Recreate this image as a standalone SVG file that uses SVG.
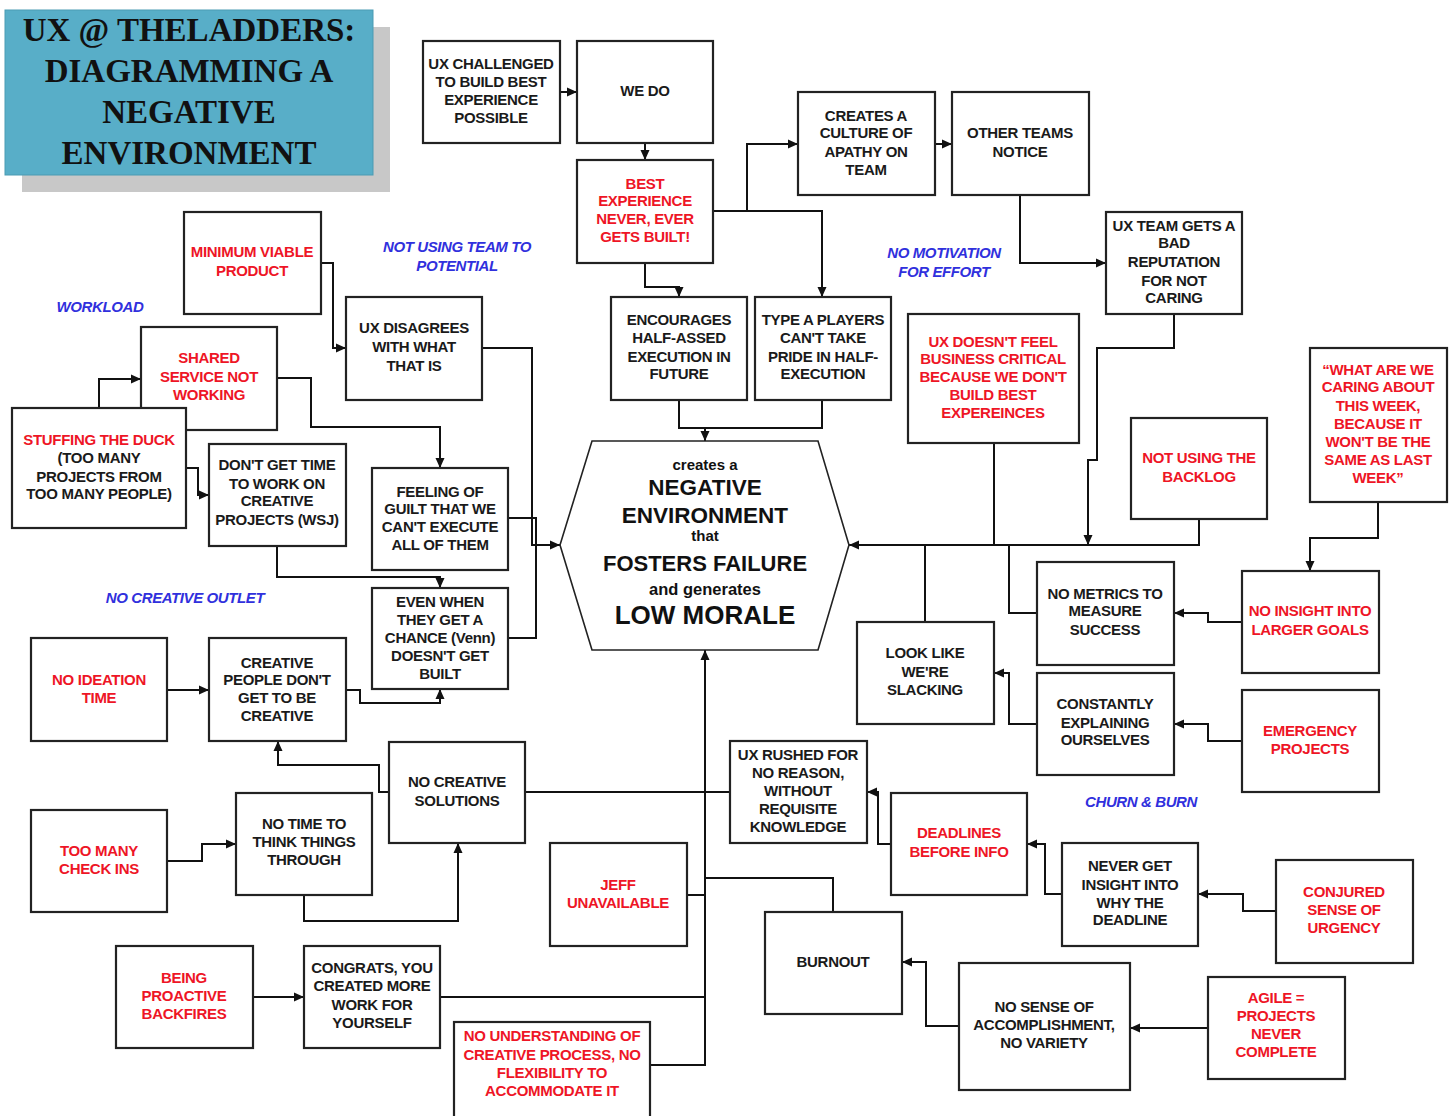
<svg xmlns="http://www.w3.org/2000/svg" width="1455" height="1116" viewBox="0 0 1455 1116">
<style>
.b{fill:#fff;stroke:#222;stroke-width:2.2}
.t{font-family:"Liberation Sans",Arial,sans-serif;font-weight:bold;font-size:15px;text-anchor:middle;fill:#1a1a1a;letter-spacing:-0.3px}
.r{fill:#ee1526}
.lbl{font-family:"Liberation Sans",Arial,sans-serif;font-weight:bold;font-style:italic;font-size:15px;text-anchor:middle;fill:#3030dd;letter-spacing:-0.4px}
.c path{fill:none;stroke:#111;stroke-width:2}
.ttl{font-family:"Liberation Serif","Times New Roman",serif;font-weight:bold;font-size:33px;text-anchor:middle;fill:#111}
.hx{font-family:"Liberation Sans",Arial,sans-serif;font-weight:bold;text-anchor:middle;fill:#111}
</style>
<defs>
<marker id="a" markerUnits="userSpaceOnUse" markerWidth="10" markerHeight="10" refX="10" refY="5" orient="auto"><path d="M0,0.5 L10,5 L0,9.5 z" fill="#111"/></marker>
</defs>
<rect width="1455" height="1116" fill="#fff"/>
<g id="title">
<rect x="22" y="27" width="368" height="165" fill="#c8c8c8"/>
<rect x="5" y="10" width="368" height="165" fill="#58aec8" stroke="#4a9bb3" stroke-width="1"/>
<text class="ttl" x="189" y="41">UX @ THELADDERS:</text>
<text class="ttl" x="189" y="82">DIAGRAMMING A</text>
<text class="ttl" x="189" y="123">NEGATIVE</text>
<text class="ttl" x="189" y="164">ENVIRONMENT</text>
</g>
<g id="labels">
<text class="lbl" x="457" y="252">NOT USING TEAM TO</text>
<text class="lbl" x="457" y="271">POTENTIAL</text>
<text class="lbl" x="100" y="312">WORKLOAD</text>
<text class="lbl" x="944" y="258">NO MOTIVATION</text>
<text class="lbl" x="944" y="277">FOR EFFORT</text>
<text class="lbl" x="185" y="603">NO CREATIVE OUTLET</text>
<text class="lbl" x="1141" y="807">CHURN &amp; BURN</text>
</g>
<g class="c" id="connectors">
<path d="M560,92 H577" marker-end="url(#a)"/>
<path d="M645,143 V160" marker-end="url(#a)"/>
<path d="M713,211 H822 V297" marker-end="url(#a)"/>
<path d="M747,211 V144 H798" marker-end="url(#a)"/>
<path d="M645,263 V287 H679 V297" marker-end="url(#a)"/>
<path d="M935,144 H952" marker-end="url(#a)"/>
<path d="M1020,195 V263 H1106" marker-end="url(#a)"/>
<path d="M1174,314 V348 H1097 V460 H1088 V545" marker-end="url(#a)"/>
<path d="M994,443 V545"/>
<path d="M1199,519 V545 H849" marker-end="url(#a)"/>
<path d="M1378,502 V538 H1310 V571" marker-end="url(#a)"/>
<path d="M1242,622 H1208 V613 H1174" marker-end="url(#a)"/>
<path d="M1242,741 H1208 V724 H1174" marker-end="url(#a)"/>
<path d="M1037,613 H1009 V545"/>
<path d="M925,622 V545"/>
<path d="M1037,724 H1009 V673 H994" marker-end="url(#a)"/>
<path d="M679,400 V428 H822 V400"/>
<path d="M705,428 V441" marker-end="url(#a)"/>
<path d="M482,348 H532 V545 H560" marker-end="url(#a)"/>
<path d="M508,518 H536 V638 H508"/>
<path d="M321,263 H333 V348 H346" marker-end="url(#a)"/>
<path d="M99,408 V379 H141" marker-end="url(#a)"/>
<path d="M277,378 H311 V427 H440 V468" marker-end="url(#a)"/>
<path d="M186,468 H198 V495 H209" marker-end="url(#a)"/>
<path d="M277,546 V577 H440 V588" marker-end="url(#a)"/>
<path d="M167,690 H209" marker-end="url(#a)"/>
<path d="M346,690 H360 V703 H440 V689" marker-end="url(#a)"/>
<path d="M389,792 H379 V765 H278 V741" marker-end="url(#a)"/>
<path d="M525,792 H730"/>
<path d="M167,861 H202 V844 H236" marker-end="url(#a)"/>
<path d="M304,895 V921 H458 V843" marker-end="url(#a)"/>
<path d="M253,997 H304" marker-end="url(#a)"/>
<path d="M440,997 H705"/>
<path d="M650,1065 H705 V650" marker-end="url(#a)"/>
<path d="M687,895 H705"/>
<path d="M833,912 V878 H705"/>
<path d="M891,844 H878 V792 H867" marker-end="url(#a)"/>
<path d="M1062,894 H1045 V844 H1027" marker-end="url(#a)"/>
<path d="M1276,911 H1243 V894 H1198" marker-end="url(#a)"/>
<path d="M1208,1028 H1130" marker-end="url(#a)"/>
<path d="M959,1026 H926 V962 H902" marker-end="url(#a)"/>
</g>
<g id="hexagon">
<polygon points="560,545 592,441 818,441 849,545 818,650 592,650" fill="#fff" stroke="#222" stroke-width="1.6"/>
<text class="hx" x="705" y="470" font-size="15">creates a</text>
<text class="hx" x="705" y="495" font-size="22.5">NEGATIVE</text>
<text class="hx" x="705" y="523" font-size="22.5">ENVIRONMENT</text>
<text class="hx" x="705" y="541" font-size="15">that</text>
<text class="hx" x="705" y="571" font-size="22">FOSTERS FAILURE</text>
<text class="hx" x="705" y="595" font-size="16.5">and generates</text>
<text class="hx" x="705" y="624" font-size="26">LOW MORALE</text>
</g>
<g id="n1"><rect class="b" x="423" y="41" width="137" height="102"/><text class="t"><tspan x="491" y="69">UX CHALLENGED</tspan><tspan x="491" y="87">TO BUILD BEST</tspan><tspan x="491" y="105">EXPERIENCE</tspan><tspan x="491" y="123">POSSIBLE</tspan></text></g>
<g id="n2"><rect class="b" x="577" y="41" width="136" height="102"/><text class="t"><tspan x="645" y="96">WE DO</tspan></text></g>
<g id="n3"><rect class="b" x="577" y="160" width="136" height="103"/><text class="t r"><tspan x="645" y="189">BEST</tspan><tspan x="645" y="206">EXPERIENCE</tspan><tspan x="645" y="224">NEVER, EVER</tspan><tspan x="645" y="242">GETS BUILT!</tspan></text></g>
<g id="n4"><rect class="b" x="798" y="92" width="137" height="103"/><text class="t"><tspan x="866" y="121">CREATES A</tspan><tspan x="866" y="138">CULTURE OF</tspan><tspan x="866" y="157">APATHY ON</tspan><tspan x="866" y="175">TEAM</tspan></text></g>
<g id="n5"><rect class="b" x="952" y="92" width="137" height="103"/><text class="t"><tspan x="1020" y="138">OTHER TEAMS</tspan><tspan x="1020" y="157">NOTICE</tspan></text></g>
<g id="n6"><rect class="b" x="1106" y="212" width="136" height="102"/><text class="t"><tspan x="1174" y="231">UX TEAM GETS A</tspan><tspan x="1174" y="248">BAD</tspan><tspan x="1174" y="267">REPUTATION</tspan><tspan x="1174" y="286">FOR NOT</tspan><tspan x="1174" y="303">CARING</tspan></text></g>
<g id="n7"><rect class="b" x="611" y="297" width="136" height="103"/><text class="t"><tspan x="679" y="325">ENCOURAGES</tspan><tspan x="679" y="343">HALF-ASSED</tspan><tspan x="679" y="362">EXECUTION IN</tspan><tspan x="679" y="379">FUTURE</tspan></text></g>
<g id="n8"><rect class="b" x="755" y="297" width="136" height="103"/><text class="t"><tspan x="823" y="325">TYPE A PLAYERS</tspan><tspan x="823" y="343">CAN'T TAKE</tspan><tspan x="823" y="362">PRIDE IN HALF-</tspan><tspan x="823" y="379">EXECUTION</tspan></text></g>
<g id="n9"><rect class="b" x="184" y="212" width="137" height="102"/><text class="t r"><tspan x="252" y="257">MINIMUM VIABLE</tspan><tspan x="252" y="276">PRODUCT</tspan></text></g>
<g id="n10"><rect class="b" x="346" y="297" width="136" height="103"/><text class="t"><tspan x="414" y="333">UX DISAGREES</tspan><tspan x="414" y="352">WITH WHAT</tspan><tspan x="414" y="371">THAT IS</tspan></text></g>
<g id="n11"><rect class="b" x="141" y="327" width="136" height="103"/><text class="t r"><tspan x="209" y="363">SHARED</tspan><tspan x="209" y="382">SERVICE NOT</tspan><tspan x="209" y="400">WORKING</tspan></text></g>
<g id="n12"><rect class="b" x="12" y="408" width="174" height="120"/><text class="t"><tspan x="99" y="445" class="r">STUFFING THE DUCK</tspan><tspan x="99" y="463">(TOO MANY</tspan><tspan x="99" y="482">PROJECTS FROM</tspan><tspan x="99" y="499">TOO MANY PEOPLE)</tspan></text></g>
<g id="n13"><rect class="b" x="209" y="444" width="137" height="102"/><text class="t"><tspan x="277" y="470">DON'T GET TIME</tspan><tspan x="277" y="489">TO WORK ON</tspan><tspan x="277" y="506">CREATIVE</tspan><tspan x="277" y="525">PROJECTS (WSJ)</tspan></text></g>
<g id="n14"><rect class="b" x="372" y="468" width="136" height="102"/><text class="t"><tspan x="440" y="497">FEELING OF</tspan><tspan x="440" y="514">GUILT THAT WE</tspan><tspan x="440" y="532">CAN'T EXECUTE</tspan><tspan x="440" y="550">ALL OF THEM</tspan></text></g>
<g id="n15"><rect class="b" x="372" y="588" width="136" height="101"/><text class="t"><tspan x="440" y="607">EVEN WHEN</tspan><tspan x="440" y="625">THEY GET A</tspan><tspan x="440" y="643">CHANCE (Venn)</tspan><tspan x="440" y="661">DOESN'T GET</tspan><tspan x="440" y="679">BUILT</tspan></text></g>
<g id="n16"><rect class="b" x="31" y="638" width="136" height="103"/><text class="t r"><tspan x="99" y="685">NO IDEATION</tspan><tspan x="99" y="703">TIME</tspan></text></g>
<g id="n17"><rect class="b" x="209" y="638" width="137" height="103"/><text class="t"><tspan x="277" y="668">CREATIVE</tspan><tspan x="277" y="685">PEOPLE DON'T</tspan><tspan x="277" y="703">GET TO BE</tspan><tspan x="277" y="721">CREATIVE</tspan></text></g>
<g id="n18"><rect class="b" x="389" y="742" width="136" height="101"/><text class="t"><tspan x="457" y="787">NO CREATIVE</tspan><tspan x="457" y="806">SOLUTIONS</tspan></text></g>
<g id="n19"><rect class="b" x="31" y="810" width="136" height="102"/><text class="t r"><tspan x="99" y="856">TOO MANY</tspan><tspan x="99" y="874">CHECK INS</tspan></text></g>
<g id="n20"><rect class="b" x="236" y="793" width="136" height="102"/><text class="t"><tspan x="304" y="829">NO TIME TO</tspan><tspan x="304" y="847">THINK THINGS</tspan><tspan x="304" y="865">THROUGH</tspan></text></g>
<g id="n21"><rect class="b" x="116" y="946" width="137" height="102"/><text class="t r"><tspan x="184" y="983">BEING</tspan><tspan x="184" y="1001">PROACTIVE</tspan><tspan x="184" y="1019">BACKFIRES</tspan></text></g>
<g id="n22"><rect class="b" x="304" y="946" width="136" height="102"/><text class="t"><tspan x="372" y="973">CONGRATS, YOU</tspan><tspan x="372" y="991">CREATED MORE</tspan><tspan x="372" y="1010">WORK FOR</tspan><tspan x="372" y="1028">YOURSELF</tspan></text></g>
<g id="n23"><rect class="b" x="454" y="1022" width="196" height="100"/><text class="t r"><tspan x="552" y="1041">NO UNDERSTANDING OF</tspan><tspan x="552" y="1060">CREATIVE PROCESS, NO</tspan><tspan x="552" y="1078">FLEXIBILITY TO</tspan><tspan x="552" y="1096">ACCOMMODATE IT</tspan></text></g>
<g id="n24"><rect class="b" x="550" y="843" width="137" height="103"/><text class="t r"><tspan x="618" y="890">JEFF</tspan><tspan x="618" y="908">UNAVAILABLE</tspan></text></g>
<g id="n25"><rect class="b" x="765" y="912" width="137" height="102"/><text class="t"><tspan x="833" y="967">BURNOUT</tspan></text></g>
<g id="n26"><rect class="b" x="730" y="741" width="137" height="102"/><text class="t"><tspan x="798" y="760">UX RUSHED FOR</tspan><tspan x="798" y="778">NO REASON,</tspan><tspan x="798" y="796">WITHOUT</tspan><tspan x="798" y="814">REQUISITE</tspan><tspan x="798" y="832">KNOWLEDGE</tspan></text></g>
<g id="n27"><rect class="b" x="891" y="793" width="136" height="102"/><text class="t r"><tspan x="959" y="838">DEADLINES</tspan><tspan x="959" y="857">BEFORE INFO</tspan></text></g>
<g id="n28"><rect class="b" x="1062" y="843" width="136" height="103"/><text class="t"><tspan x="1130" y="871">NEVER GET</tspan><tspan x="1130" y="890">INSIGHT INTO</tspan><tspan x="1130" y="908">WHY THE</tspan><tspan x="1130" y="925">DEADLINE</tspan></text></g>
<g id="n29"><rect class="b" x="1276" y="860" width="137" height="103"/><text class="t r"><tspan x="1344" y="897">CONJURED</tspan><tspan x="1344" y="915">SENSE OF</tspan><tspan x="1344" y="933">URGENCY</tspan></text></g>
<g id="n30"><rect class="b" x="959" y="963" width="171" height="127"/><text class="t"><tspan x="1044" y="1012">NO SENSE OF</tspan><tspan x="1044" y="1030">ACCOMPLISHMENT,</tspan><tspan x="1044" y="1048">NO VARIETY</tspan></text></g>
<g id="n31"><rect class="b" x="1208" y="977" width="137" height="102"/><text class="t r"><tspan x="1276" y="1003">AGILE =</tspan><tspan x="1276" y="1021">PROJECTS</tspan><tspan x="1276" y="1039">NEVER</tspan><tspan x="1276" y="1057">COMPLETE</tspan></text></g>
<g id="n32"><rect class="b" x="857" y="622" width="137" height="102"/><text class="t"><tspan x="925" y="658">LOOK LIKE</tspan><tspan x="925" y="677">WE'RE</tspan><tspan x="925" y="695">SLACKING</tspan></text></g>
<g id="n33"><rect class="b" x="1037" y="562" width="137" height="103"/><text class="t"><tspan x="1105" y="599">NO METRICS TO</tspan><tspan x="1105" y="616">MEASURE</tspan><tspan x="1105" y="635">SUCCESS</tspan></text></g>
<g id="n34"><rect class="b" x="1037" y="673" width="137" height="102"/><text class="t"><tspan x="1105" y="709">CONSTANTLY</tspan><tspan x="1105" y="728">EXPLAINING</tspan><tspan x="1105" y="745">OURSELVES</tspan></text></g>
<g id="n35"><rect class="b" x="1242" y="571" width="137" height="102"/><text class="t r"><tspan x="1310" y="616">NO INSIGHT INTO</tspan><tspan x="1310" y="635">LARGER GOALS</tspan></text></g>
<g id="n36"><rect class="b" x="1242" y="690" width="137" height="102"/><text class="t r"><tspan x="1310" y="736">EMERGENCY</tspan><tspan x="1310" y="754">PROJECTS</tspan></text></g>
<g id="n37"><rect class="b" x="908" y="314" width="171" height="129"/><text class="t r"><tspan x="993" y="347">UX DOESN'T FEEL</tspan><tspan x="993" y="364">BUSINESS CRITICAL</tspan><tspan x="993" y="382">BECAUSE WE DON'T</tspan><tspan x="993" y="400">BUILD BEST</tspan><tspan x="993" y="418">EXPEREINCES</tspan></text></g>
<g id="n38"><rect class="b" x="1131" y="418" width="136" height="101"/><text class="t r"><tspan x="1199" y="463">NOT USING THE</tspan><tspan x="1199" y="482">BACKLOG</tspan></text></g>
<g id="n39"><rect class="b" x="1310" y="348" width="137" height="154"/><text class="t r"><tspan x="1378" y="375">“WHAT ARE WE</tspan><tspan x="1378" y="392">CARING ABOUT</tspan><tspan x="1378" y="411">THIS WEEK,</tspan><tspan x="1378" y="429">BECAUSE IT</tspan><tspan x="1378" y="447">WON'T BE THE</tspan><tspan x="1378" y="465">SAME AS LAST</tspan><tspan x="1378" y="483">WEEK”</tspan></text></g>
</svg>
